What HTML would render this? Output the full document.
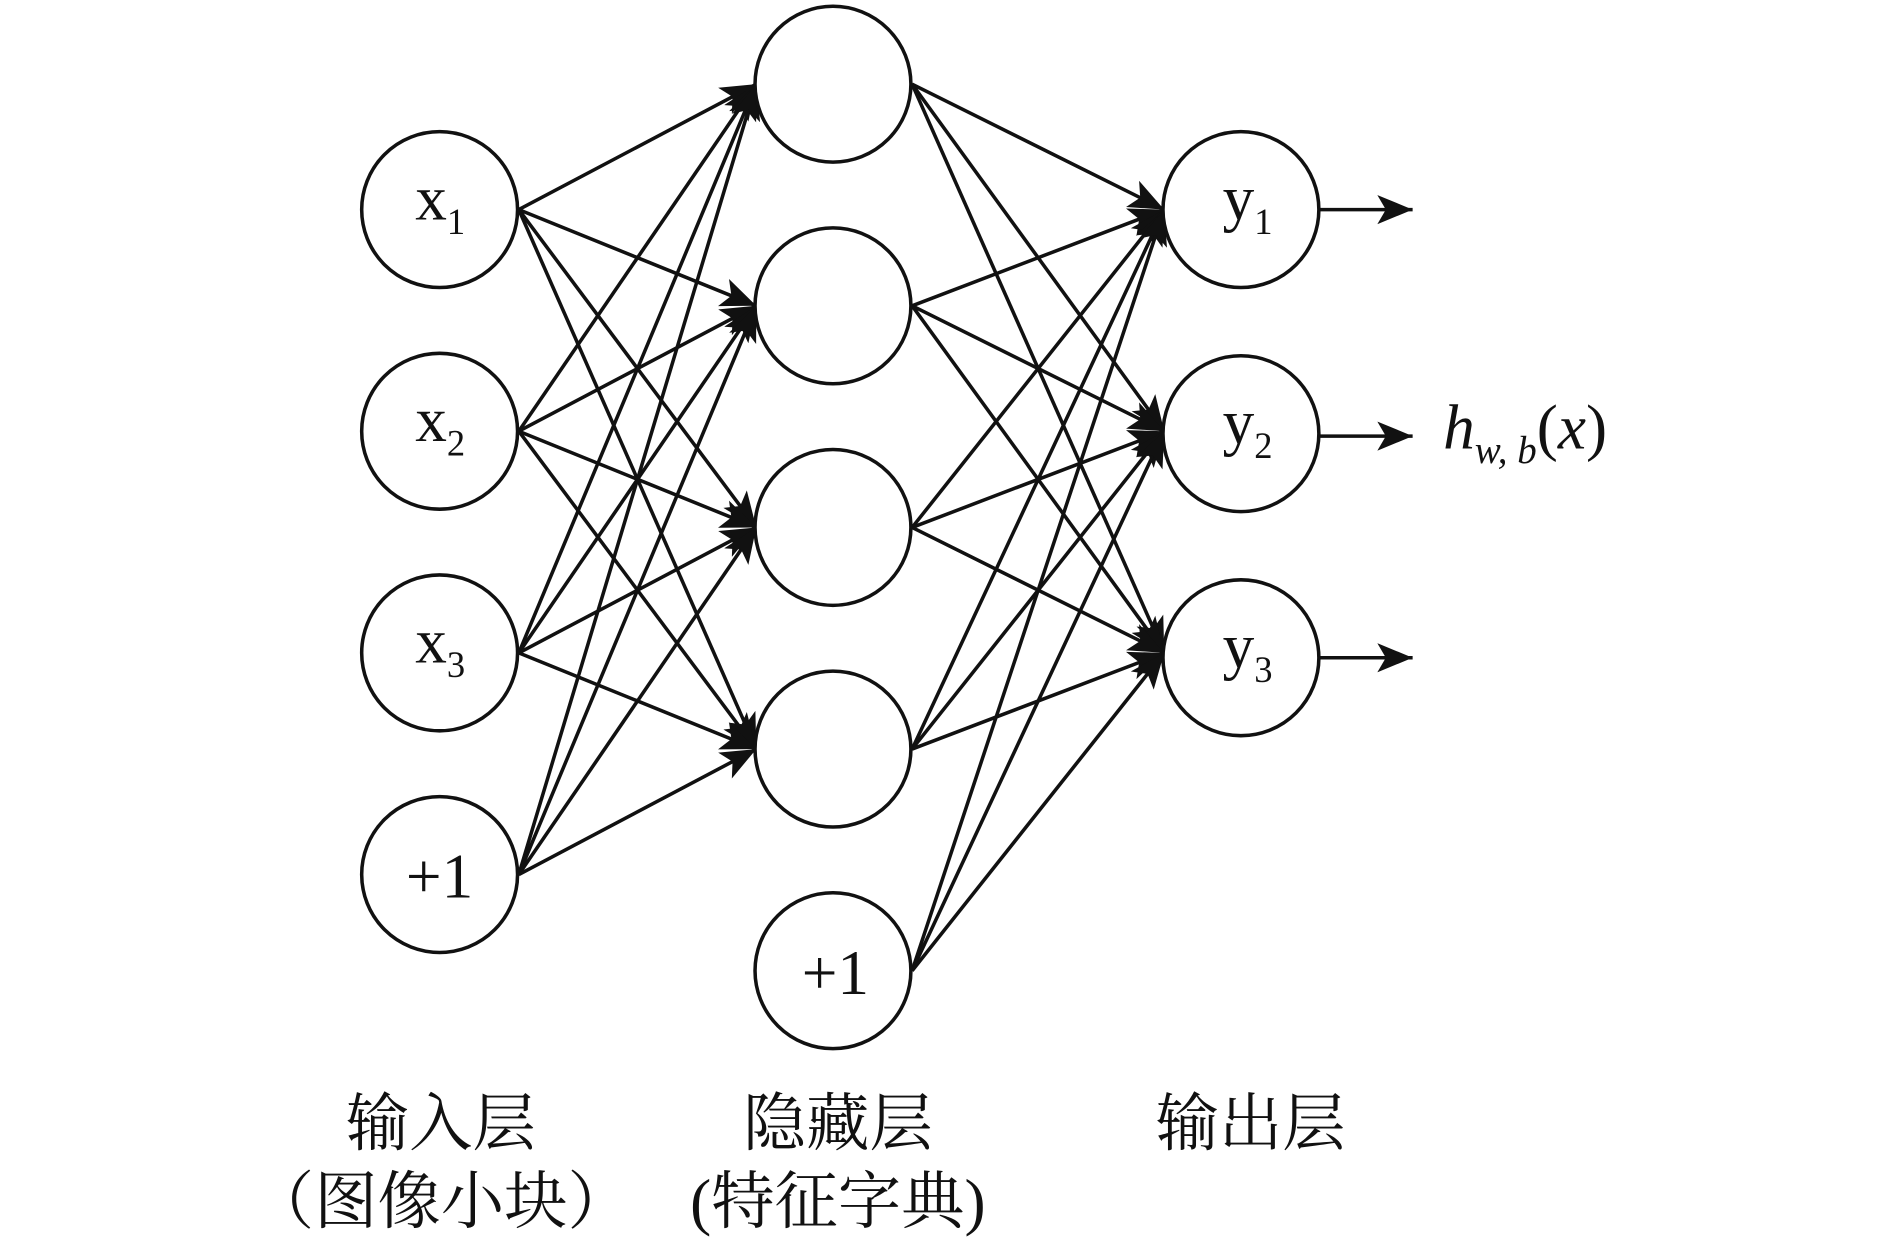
<!DOCTYPE html>
<html><head><meta charset="utf-8"><style>
html,body{margin:0;padding:0;background:#fff;width:1890px;height:1240px;overflow:hidden}
svg{display:block}
text{font-family:"Liberation Serif","Noto Serif CJK SC",serif;fill:#111}
</style></head><body>
<svg width="1890" height="1240" viewBox="0 0 1552 1018" xmlns="http://www.w3.org/2000/svg">
<defs>
<marker id="a" markerUnits="userSpaceOnUse" markerWidth="32" markerHeight="26" refX="29" refY="12" orient="auto">
<path d="M0,0 L29,12 L0,24 L7,12 Z" fill="#111"/>
</marker>
</defs>
<g stroke="#111" stroke-width="2.9" marker-end="url(#a)">
<line x1="426" y1="172" x2="621" y2="69"/><line x1="426" y1="172" x2="621" y2="251"/><line x1="426" y1="172" x2="621" y2="433"/><line x1="426" y1="172" x2="621" y2="615"/>
<line x1="426" y1="354" x2="621" y2="69"/><line x1="426" y1="354" x2="621" y2="251"/><line x1="426" y1="354" x2="621" y2="433"/><line x1="426" y1="354" x2="621" y2="615"/>
<line x1="426" y1="536" x2="621" y2="69"/><line x1="426" y1="536" x2="621" y2="251"/><line x1="426" y1="536" x2="621" y2="433"/><line x1="426" y1="536" x2="621" y2="615"/>
<line x1="426" y1="718" x2="621" y2="69"/><line x1="426" y1="718" x2="621" y2="251"/><line x1="426" y1="718" x2="621" y2="433"/><line x1="426" y1="718" x2="621" y2="615"/>
<line x1="749" y1="69" x2="956" y2="172"/><line x1="749" y1="69" x2="956" y2="354"/><line x1="749" y1="69" x2="956" y2="536"/>
<line x1="749" y1="251" x2="956" y2="172"/><line x1="749" y1="251" x2="956" y2="354"/><line x1="749" y1="251" x2="956" y2="536"/>
<line x1="749" y1="433" x2="956" y2="172"/><line x1="749" y1="433" x2="956" y2="354"/><line x1="749" y1="433" x2="956" y2="536"/>
<line x1="749" y1="615" x2="956" y2="172"/><line x1="749" y1="615" x2="956" y2="354"/><line x1="749" y1="615" x2="956" y2="536"/>
<line x1="749" y1="797" x2="956" y2="172"/><line x1="749" y1="797" x2="956" y2="354"/><line x1="749" y1="797" x2="956" y2="536"/>
<line x1="1084" y1="172" x2="1160" y2="172"/><line x1="1084" y1="358" x2="1160" y2="358"/><line x1="1084" y1="540" x2="1160" y2="540"/>
</g>
<g fill="#fff" stroke="#111" stroke-width="2.9">
<circle cx="361" cy="172" r="64"/><circle cx="361" cy="354" r="64"/><circle cx="361" cy="536" r="64"/><circle cx="361" cy="718" r="64"/>
<circle cx="684" cy="69" r="64"/><circle cx="684" cy="251" r="64"/><circle cx="684" cy="433" r="64"/><circle cx="684" cy="615" r="64"/><circle cx="684" cy="797" r="64"/>
<circle cx="1019" cy="172" r="64"/><circle cx="1019" cy="356" r="64"/><circle cx="1019" cy="540" r="64"/>
</g>
<g font-size="52">
<text x="341" y="180">x<tspan font-size="30" dy="12">1</tspan></text>
<text x="341" y="362">x<tspan font-size="30" dy="12">2</tspan></text>
<text x="341" y="544">x<tspan font-size="30" dy="12">3</tspan></text>
<text x="361" y="737" text-anchor="middle">+1</text>
<text x="686" y="816" text-anchor="middle">+1</text>
<text x="1004" y="180">y<tspan font-size="30" dy="12">1</tspan></text>
<text x="1004" y="364">y<tspan font-size="30" dy="12">2</tspan></text>
<text x="1004" y="548">y<tspan font-size="30" dy="12">3</tspan></text>
<text x="1185" y="368" font-style="italic">h<tspan font-size="32" dy="12">w, b</tspan><tspan dy="-12" font-style="normal">(</tspan>x<tspan font-style="normal">)</tspan></text>
</g>
<g font-size="52" text-anchor="middle">
<text x="362" y="940">输入层</text>
<text x="362" y="1004">（图像小块）</text>
<text x="688" y="940">隐藏层</text>
<text x="688" y="1004">(特征字典)</text>
<text x="1027" y="940">输出层</text>
</g>
</svg>
</body></html>
